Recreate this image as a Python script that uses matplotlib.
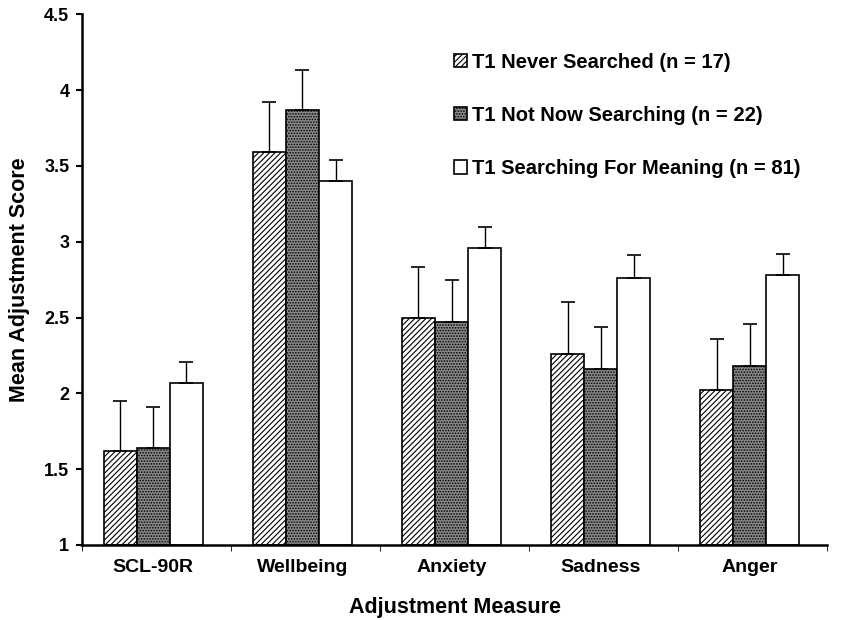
import matplotlib
matplotlib.use("Agg")
import matplotlib.pyplot as plt
import numpy as np

plt.rcParams['font.family'] = ['Liberation Sans', 'DejaVu Sans']
plt.rcParams['font.weight'] = 'bold'
plt.rcParams['hatch.linewidth'] = 0.8

categories = ["SCL-90R", "Wellbeing", "Anxiety", "Sadness", "Anger"]
series_names = ["T1 Never Searched (n = 17)", "T1 Not Now Searching (n = 22)",
                "T1 Searching For Meaning (n = 81)"]
never = [1.62, 3.59, 2.50, 2.26, 2.02]
not_now = [1.64, 3.87, 2.47, 2.16, 2.18]
searching = [2.07, 3.40, 2.96, 2.76, 2.78]
never_err = [0.33, 0.33, 0.33, 0.34, 0.34]
not_now_err = [0.27, 0.26, 0.28, 0.28, 0.28]
searching_err = [0.14, 0.14, 0.14, 0.15, 0.14]
yticks = [1, 1.5, 2, 2.5, 3, 3.5, 4, 4.5]
yticklabels = ["1", "1.5", "2", "2.5", "3", "3.5", "4", "4.5"]

fig = plt.figure(figsize=(8.52, 6.2), dpi=100)
ax = fig.add_axes([0.096, 0.121, 0.875, 0.856])

x = np.arange(len(categories))
w = 0.222
styles = [dict(facecolor='white', hatch='//////'),
          dict(facecolor='#8a8a8a', hatch='......'),
          dict(facecolor='white', hatch=None)]
vals = [never, not_now, searching]
errs = [never_err, not_now_err, searching_err]
for i in range(3):
    pos = x - 0.02 + (i - 1) * w
    ax.bar(pos, np.array(vals[i]) - 1, bottom=1, width=w, edgecolor='black', linewidth=1.2,
           label=series_names[i], **styles[i])
    ax.errorbar(pos, vals[i], yerr=[np.zeros(5), errs[i]], fmt='none', ecolor='black',
                elinewidth=1.0, capsize=5, capthick=1.2)

ax.set_xlim(-0.5, 4.5)
ax.set_ylim(1, 4.5)
ax.set_yticks(yticks)
ax.set_yticklabels(yticklabels, fontsize=13, fontweight='bold')
ax.set_xticks(x - 0.02)
ax.set_xticklabels(categories, fontsize=14, fontweight='bold')
ax.set_xticks(np.arange(-0.5, 5, 1), minor=True)
ax.tick_params(axis='x', which='major', length=0, pad=10)
ax.tick_params(axis='x', which='minor', length=4, direction='out')
ax.tick_params(axis='y', length=4, direction='out', width=1.5, pad=5)
for s in ['top', 'right']:
    ax.spines[s].set_visible(False)
for s in ['left', 'bottom']:
    ax.spines[s].set_linewidth(1.8)

ax.set_xlabel("Adjustment Measure", fontsize=15.5, fontweight='bold', labelpad=15)
ax.set_ylabel("Mean Adjustment Score", fontsize=15.5, fontweight='bold', labelpad=10)

ax.legend(loc='upper left', bbox_to_anchor=(0.475, 0.962), frameon=False,
          prop={'size': 14.5, 'weight': 'bold'}, labelspacing=1.7,
          handlelength=0.65, handleheight=0.65, handletextpad=0.25)

fig.savefig("out.png", dpi=100)
